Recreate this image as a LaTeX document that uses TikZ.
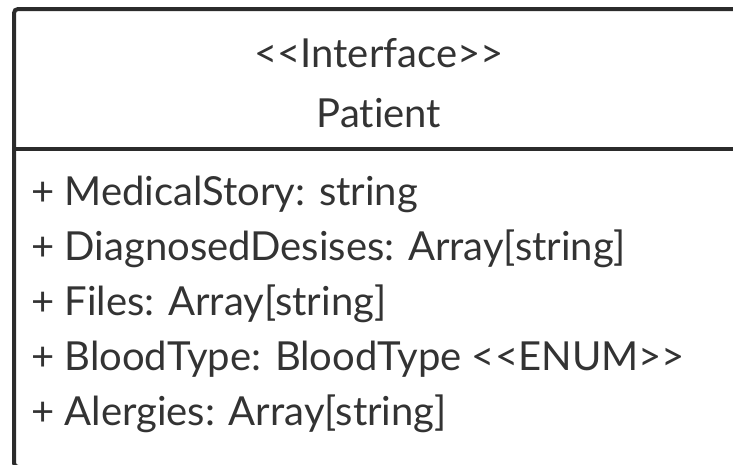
\documentclass[tikz,border=0pt]{standalone}
\usepackage{fontspec}
% plain Lato, no TeX ligatures (keeps << and >> as typed) and no ti/fi ligatures
\newfontfamily\umlfont{Lato}[Ligatures={NoCommon}]
\definecolor{umlline}{HTML}{2B2B2B}
\definecolor{umltext}{HTML}{333333}
\tikzset{
  classframe/.style={draw=umlline, line width=4pt, rounded corners=4pt},
  divider/.style={draw=umlline, line width=4pt},
  headtext/.style={anchor=base, inner sep=0pt, text=umltext, font=\umlfont\fontsize{40}{48}\selectfont},
  attrtext/.style={anchor=base west, inner sep=0pt, text=umltext, font=\umlfont\fontsize{40}{48}\selectfont},
}
\begin{document}
\begin{tikzpicture}[x=1pt, y=-1pt]
  \useasboundingbox (0,0) rectangle (733,464);
  \begin{scope}
    \clip (0,0) rectangle (733,464);
    % class frame (extends past the right and bottom edges)
    \draw[classframe] (14,9) rectangle (746,467);
    \coordinate (divL) at (14,149);
    \coordinate (divR) at (746,149);
    \draw[divider] (divL) -- (divR);
  \end{scope}
  % header
  \node[headtext] (stereo) at (379,67) {<<Interface>>};
  \node[headtext] (name) at (379,127) {Patient};
  % attributes
  \node[attrtext] (a1) at (31,205) {+ MedicalStory: string};
  \node[attrtext] (a2) at (31,260) {+ DiagnosedDesises: Array[string]};
  \node[attrtext] (a3) at (31,315) {+ Files: Array[string]};
  \node[attrtext] (a4) at (31,370) {+ BloodType: BloodType <<ENUM>>};
  \node[attrtext] (a5) at (31,425) {+ Alergies: Array[string]};
\end{tikzpicture}
\end{document}
